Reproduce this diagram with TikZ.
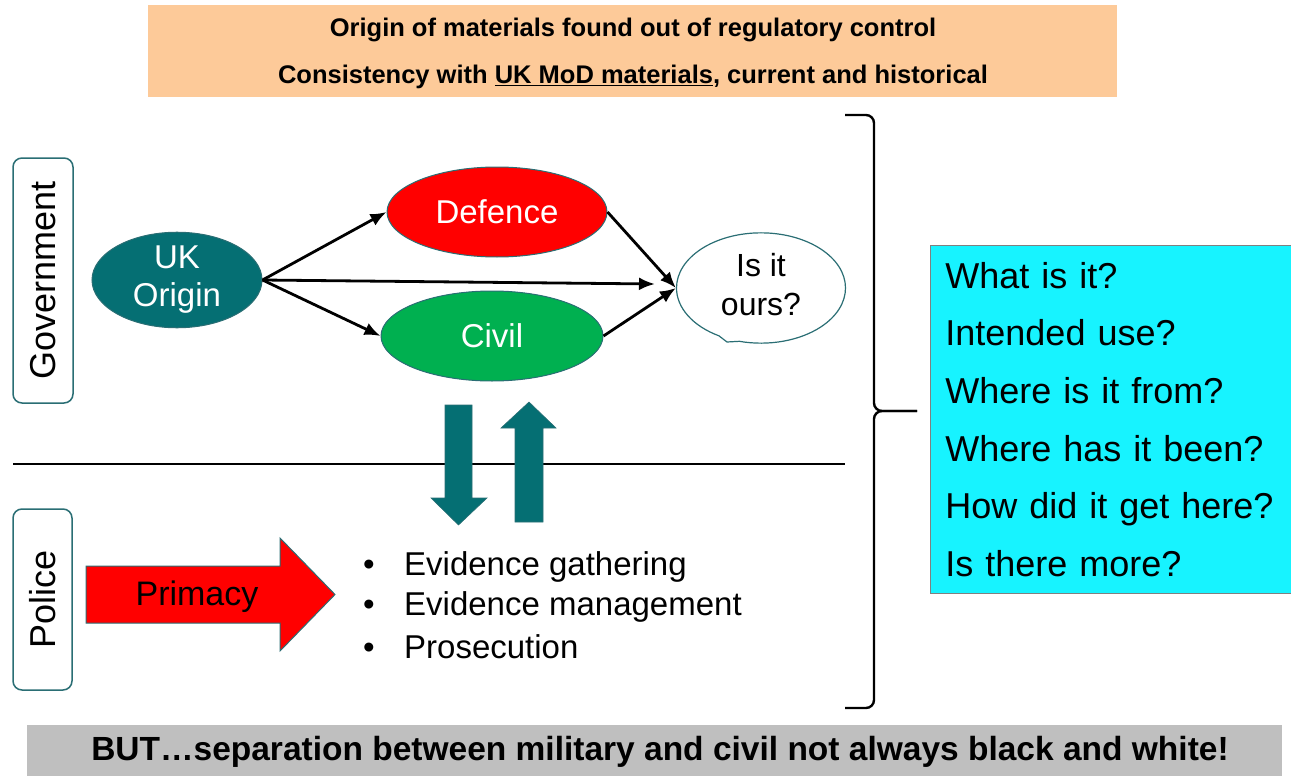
\documentclass[tikz,border=0pt]{standalone}
\usepackage{fontspec}
\setmainfont{Liberation Sans}
\usetikzlibrary{arrows.meta,positioning,shapes.geometric,shapes.callouts}
\definecolor{OriginTeal}{HTML}{056F73}
\definecolor{OriginEdge}{HTML}{2A6E74}
\definecolor{OriginRed}{HTML}{FF0000}
\definecolor{OriginGreen}{HTML}{00B050}
\definecolor{OriginPeach}{HTML}{FDCA99}
\definecolor{OriginGrey}{HTML}{BFBFBF}
\definecolor{OriginCyan}{HTML}{17F3FF}
\tikzset{
  origin banner/.style={font=\bfseries\fontsize{25.5}{30}\selectfont, text=black, inner sep=0pt},
  origin big banner/.style={font=\bfseries\fontsize{33.5}{38}\selectfont, text=black, inner sep=0pt},
  origin side/.style={draw=OriginEdge, line width=1.5pt, rounded corners=9pt, fill=white,
    font=\fontsize{36}{40}\selectfont, inner sep=0pt},
  origin blob/.style={ellipse, draw=OriginEdge, line width=1pt, inner sep=0pt, text=white,
    font=\fontsize{33}{38}\selectfont, align=center},
  origin flow/.style={draw=black, line width=2.8pt, -{Latex[length=16pt,width=13pt]}},
  origin block/.style={fill=OriginTeal, draw=OriginEdge, line width=.6pt},
  origin brace/.style={draw=black, line width=2.4pt, rounded corners=8pt},
  origin bullet/.style={font=\fontsize{33}{36}\selectfont, anchor=west, inner sep=0pt},
}

\begin{document}
\begin{tikzpicture}[x=1pt,y=-1pt]
  \useasboundingbox (0,0) rectangle (1291,776);

  % top and bottom banners
  \node[fill=OriginPeach, minimum width=969pt, minimum height=92pt] (top) at (632.5,51) {};
  \node[origin banner] (topa) at (633,29.5) {Origin of materials found out of regulatory control};
  \node[origin banner] (topb) at (633,76.5)
    {Consistency with \underline{UK MoD materials}, current and historical};
  \node[fill=OriginGrey, minimum width=1255pt, minimum height=52pt] (foot) at (654.5,751) {};
  \node[origin big banner] (foottext) at (660,752)
    {BUT\dots separation between military and civil not always black and white!};

  % side labels
  \node[origin side, rotate=90, minimum width=245pt, minimum height=60pt] (gov) at (43,280.5) {Government};
  \node[origin side, rotate=90, minimum width=181pt, minimum height=59pt] (pol) at (42.5,599.5) {Police};
  \draw[line width=2.6pt] (13,464) -- (845,464);

  % government flow
  \node[origin blob, fill=OriginTeal, minimum width=170pt, minimum height=83pt] (uk) at (177,280)
    {UK\\Origin};
  \node[origin blob, fill=OriginRed, minimum width=220pt, minimum height=90pt] (def) at (497,212) {Defence};
  \node[origin blob, fill=OriginGreen, minimum width=222pt, minimum height=90pt] (civ) at (492,336) {Civil};
  \node[ellipse callout, draw=OriginEdge, line width=1.2pt, fill=white, inner sep=0pt,
    minimum width=169pt, minimum height=108pt, callout absolute pointer={(727,342)},
    font=\fontsize{32}{39}\selectfont] (ours) at (761,288)
    {\raisebox{5pt}{\begin{tabular}{@{}c@{}}Is it\\ours?\end{tabular}}};
  \coordinate (mid) at (655,284);
  \draw[origin flow] (uk.east) -- (def.west);
  \draw[origin flow] (uk.east) -- (civ.west);
  \draw[origin flow] (uk.east) -- (mid);
  \draw[origin flow] (def.east) -- (ours.west);
  \draw[origin flow] (civ.east) -- (ours.west);

  % exchange between the two sides
  \draw[origin block] (445,405) -- (472,405) -- (472,498) -- (487,498) -- (458.5,525)
    -- (431,498) -- (445,498) -- cycle;
  \draw[origin block] (515,522) -- (543,522) -- (543,428) -- (556,428) -- (529,402)
    -- (501,428) -- (515,428) -- cycle;

  % police side
  \draw[fill=OriginRed, draw=OriginEdge, line width=1pt] (86,566) -- (280,566) -- (280,538)
    -- (335,594.5) -- (280,651) -- (280,623) -- (86,623) -- cycle;
  \node[font=\fontsize{34}{36}\selectfont] (prim) at (197,597) {Primacy};
  \foreach \task [count=\i] in {Evidence gathering, Evidence management, Prosecution}
    \node[origin bullet] (task\i) at (363,527+40*\i) {\makebox[41pt][l]{\textbullet}\task};

  % questions
  \draw[origin brace] (845,115) -- (874,115) -- (874,411) -- (917,411);
  \draw[origin brace] (845,708) -- (874,708) -- (874,411) -- (917,411);
  \node[anchor=north west, fill=OriginCyan, draw=gray, line width=.8pt, minimum height=348pt,
    text width=345pt, inner xsep=15pt, inner ysep=0pt, align=left,
    font=\fontsize{36}{57.6}\selectfont] (asks) at (930,245)
    {What is it?\\Intended use?\\Where is it from?\\Where has it been?\\How did it get here?\\Is there more?};
\end{tikzpicture}
\end{document}
